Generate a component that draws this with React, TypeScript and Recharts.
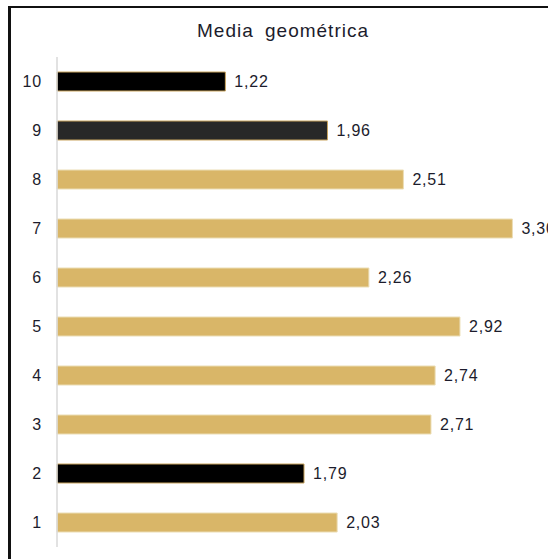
import { BarChart, Bar, XAxis, YAxis, Cell, LabelList } from 'recharts';

// categories from top to bottom
const categories = ['10', '9', '8', '7', '6', '5', '4', '3', '2', '1'];
const values = [1.22, 1.96, 2.51, 3.3, 2.26, 2.92, 2.74, 2.71, 1.79, 2.03];
const darkCategories = ['10', '9', '2'];

const title = 'Media geométrica';

const data = categories.map((c, i) => ({ cat: c, value: values[i] }));

const FONT = '"Liberation Sans", Arial, sans-serif';
const TEXT = '#1c1c2c';

function fillFor(cat: string) {
  if (cat === '9') return '#282828';
  if (darkCategories.includes(cat)) return '#000000';
  return '#D9B668';
}

function strokeFor(cat: string) {
  return darkCategories.includes(cat) ? '#C9A45E' : '#EBDDB4';
}

export default function App() {
  return (
    <div
      style={{
        position: 'fixed',
        left: 0,
        top: 0,
        width: 548,
        height: 559,
        overflow: 'hidden',
        background: '#fff',
        fontFamily: FONT,
      }}
    >
      <div
        style={{
          position: 'absolute',
          left: 8,
          top: 6,
          width: 600,
          height: 600,
          borderLeft: '3px solid #111',
          borderTop: '2px solid #111',
          boxSizing: 'border-box',
        }}
      />
      <div
        style={{
          position: 'absolute',
          left: 0,
          top: 20,
          width: 566,
          textAlign: 'center',
          fontSize: 19,
          lineHeight: '22px',
          letterSpacing: 1,
          wordSpacing: 5,
          color: TEXT,
        }}
      >
        {title}
      </div>
      <div style={{ position: 'absolute', left: 0, top: 0 }}>
        <BarChart
          width={548}
          height={559}
          data={data}
          layout="vertical"
          margin={{ top: 57, right: 8, bottom: 12, left: 0 }}
          barCategoryGap={0}
        >
          <XAxis type="number" domain={[0, 3.5]} hide />
          <YAxis
            type="category"
            dataKey="cat"
            width={57}
            axisLine={{ stroke: '#d9d9d9', strokeWidth: 1.5 }}
            tickLine={false}
            tickMargin={9}
            tick={{ fontSize: 16, fill: TEXT, fontFamily: FONT, letterSpacing: 0.8 }}
          />
          <Bar dataKey="value" barSize={19} isAnimationActive={false}>
            {data.map((d) => (
              <Cell key={d.cat} fill={fillFor(d.cat)} stroke={strokeFor(d.cat)} strokeWidth={1} />
            ))}
            <LabelList
              dataKey="value"
              position="right"
              offset={9}
              formatter={(v: number) => v.toFixed(2).replace('.', ',')}
              style={{ fontSize: 16, fill: TEXT, fontFamily: FONT, letterSpacing: 0.8 }}
            />
          </Bar>
        </BarChart>
      </div>
    </div>
  );
}
